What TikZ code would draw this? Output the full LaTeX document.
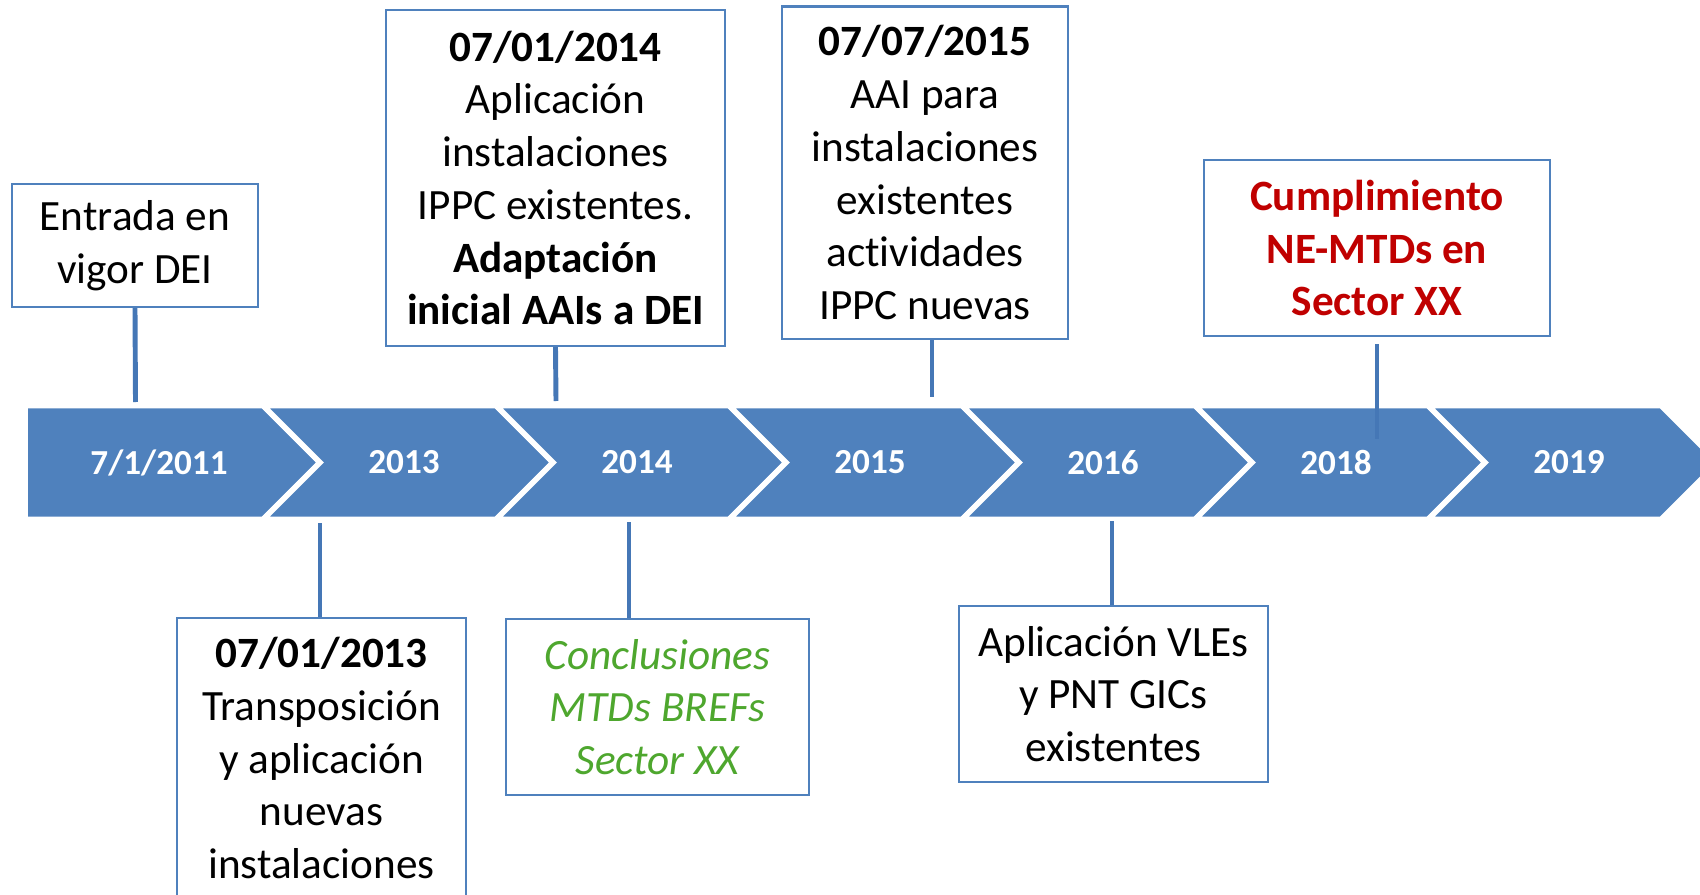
\documentclass[tikz,border=0pt]{standalone}
\usepackage{fontspec}
\setmainfont{Carlito}[Ligatures = NoCommon]

\definecolor{bandblue}{HTML}{4F81BD}
\definecolor{linkblue}{HTML}{4577B6}
\definecolor{concgreen}{HTML}{4EA72E}
\definecolor{cumpred}{HTML}{C00000}

\begin{document}
\begin{tikzpicture}[
  box/.style = {draw = bandblue, line width = 0.6pt, fill = white, align = center,
    inner sep = 0pt, font = \fontsize{12.3}{15}\selectfont},
  link/.style = {draw = linkblue, line width = 1.4pt},
  year/.style = {text = white, font = \fontsize{10}{12}\selectfont\bfseries},
  seg/.style = {fill = bandblue, draw = white, line width = 1.6pt, line join = miter}]

  \useasboundingbox (0, 0) rectangle (17, 8.94);
  \clip (0, 0) rectangle (17, 8.94);

  % 帯（最初の矢印）
  \path[seg] (0.25, 3.745) -- (0.25, 4.885) -- (2.63, 4.885) -- (3.2, 4.315)
    -- (2.63, 3.745) -- cycle;

  % 帯（シェブロン）
  \foreach \i [evaluate = \i as \xa using {3.2 + 2.33*(\i - 1)},
               evaluate = \i as \xb using {3.2 + 2.33*\i}] in {1, 2, 3, 4, 5, 6}
    \path[seg] (\xa - 0.57, 4.885) -- (\xb - 0.57, 4.885) -- (\xb, 4.315)
      -- (\xb - 0.57, 3.745) -- (\xa - 0.57, 3.745) -- (\xa, 4.315) -- cycle;

  % 年
  \node[year] (yr1) at (1.59, 4.315) {7/1/2011};
  \foreach \t [count = \n from 2] in {2013, 2014, 2015, 2016, 2018, 2019}
    \node[year] (yr\n) at ({3.2 + 2.33*(\n - 2) + 0.84}, 4.315) {\t};

  % 箱（上）
  \node[box, minimum width = 2.46cm, minimum height = 1.23cm] (entrada) at (1.35, 6.485)
    {Entrada en\\vigor DEI};
  \node[box, minimum width = 3.39cm, minimum height = 3.36cm] (d2014) at (5.555, 7.16)
    {\textbf{07/01/2014}\\Aplicación\\instalaciones\\IPPC existentes.\\
     \textbf{Adaptación}\\\textbf{inicial AAIs a DEI}};
  \node[box, minimum width = 2.86cm, minimum height = 3.325cm] (d2015) at (9.25, 7.2125)
    {\textbf{07/07/2015}\\AAI para\\instalaciones\\existentes\\actividades\\IPPC nuevas};
  \node[box, minimum width = 3.46cm, minimum height = 1.76cm, text = cumpred] (cumpl) at (13.77, 6.46)
    {\textbf{Cumplimiento}\\\textbf{NE-MTDs en}\\\textbf{Sector XX}};

  % 箱（下）
  \node[box, minimum width = 2.89cm, minimum height = 2.8cm, anchor = north] (d2013) at (3.215, 2.77)
    {\textbf{07/01/2013}\\Transposición\\y aplicación\\nuevas\\instalaciones};
  \node[box, minimum width = 3.03cm, minimum height = 1.76cm, text = concgreen] (concl) at (6.575, 1.87)
    {\itshape Conclusiones\\\itshape MTDs BREFs\\\itshape Sector XX};
  \node[box, minimum width = 3.09cm, minimum height = 1.76cm] (vle) at (11.135, 2.0)
    {Aplicación VLEs\\y PNT GICs\\existentes};

  % 線の端
  \coordinate (c1) at (1.355, 4.92);
  \coordinate (c2) at (5.56, 4.93);
  \coordinate (c3) at (9.32, 4.97);
  \coordinate (c4) at (13.77, 4.55);
  \coordinate (c5) at (3.2, 3.71);
  \coordinate (c6) at (6.29, 3.72);
  \coordinate (c7) at (11.12, 3.73);

  % 線
  \draw[link] (entrada.south) -- (c1);
  \draw[link] (d2014.south) -- (c2);
  \draw[link] (c3 |- d2015.south) -- (c3);
  \draw[link, shorten <= 2pt] (cumpl.south) -- (c4);
  \draw[link] (c5) -- (c5 |- d2013.north);
  \draw[link] (c6) -- (c6 |- concl.north);
  \draw[link] (c7) -- (c7 |- vle.north);

\end{tikzpicture}
\end{document}
